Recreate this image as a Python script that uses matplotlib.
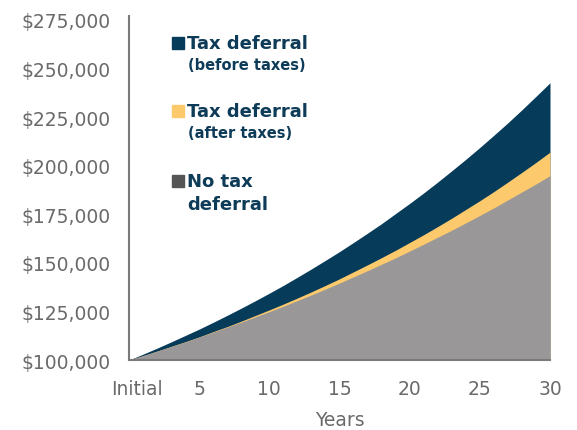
import matplotlib.pyplot as plt
import matplotlib.transforms as mtransforms
from matplotlib.patches import Rectangle
from matplotlib.ticker import FuncFormatter

years = list(range(0, 31))

# value of $100,000 over time
before_taxes = [100000, 103000, 106100, 109300, 112600, 115900, 119400, 123000,
                126700, 130500, 134400, 138400, 142600, 146900, 151300, 155800,
                160500, 165300, 170200, 175400, 180600, 186000, 191600, 197400,
                203300, 209400, 215700, 222100, 228800, 235700, 242700]
after_taxes = [100000, 102250, 104600, 107000, 109400, 111900, 114600, 117200,
               120000, 122900, 125800, 128800, 131900, 135100, 138400, 141800,
               145400, 149000, 152700, 156500, 160500, 164500, 168700, 173000,
               177500, 182000, 186700, 191600, 196600, 201700, 207000]
no_deferral = [100000, 102250, 104550, 106900, 109300, 111800, 114300, 116900,
               119500, 122200, 124900, 127700, 130600, 133500, 136500, 139600,
               142800, 146000, 149300, 152600, 156100, 159600, 163200, 166800,
               170600, 174400, 178300, 182400, 186500, 190600, 194900]

xtick_pos = [0, 5, 10, 15, 20, 25, 30]
xtick_labels = ['Initial', '5', '10', '15', '20', '25', '30']
ytick_pos = [100000, 125000, 150000, 175000, 200000, 225000, 250000, 275000]

navy = '#063b5a'
yellow = '#fdc96d'
grey = '#999797'
text_grey = '#6a6a6a'
legend_text = '#0d3b58'

W, H = 577, 431
fig = plt.figure(figsize=(W / 100, H / 100), dpi=100)
ax = fig.add_axes([129 / W, 1 - 361 / H, (550 - 129) / W, (361 - 21) / H])

ax.fill_between(years, 100000, before_taxes, color=navy, lw=0)
ax.fill_between(years, 100000, after_taxes, color=yellow, lw=0)
ax.fill_between(years, 100000, no_deferral, color=grey, lw=0)

ax.set_xlim(0, 30)
ax.set_ylim(100000, 275000)
ax.set_xticks(xtick_pos)
ax.set_xticklabels(xtick_labels)
ax.set_yticks(ytick_pos)
ax.yaxis.set_major_formatter(FuncFormatter(lambda v, p: '${:,.0f}'.format(v)))

for s in ['top', 'right']:
    ax.spines[s].set_visible(False)
for s in ['left', 'bottom']:
    ax.spines[s].set_color('#7a7a7a')
    ax.spines[s].set_linewidth(1.5)
ax.spines['left'].set_bounds(100000, 277000)

ax.tick_params(length=0, labelsize=13.5, colors=text_grey)
ax.tick_params(axis='y', pad=13)
ax.tick_params(axis='x', pad=14)
lbl0 = ax.get_xticklabels()[0]
lbl0.set_transform(lbl0.get_transform() + mtransforms.ScaledTranslation(8 / 100, 0, fig.dpi_scale_trans))

ax.set_xlabel('Years', fontsize=13.5, color=text_grey, labelpad=8)

# legend
items = [
    (navy, 'Tax deferral', '(before taxes)', 44, 66),
    (yellow, 'Tax deferral', '(after taxes)', 112, 133),
    ('#555555', 'No tax', None, 182, 205),
]
for color, line1, line2, y1, y2 in items:
    fig.patches.append(Rectangle((172 / W, 1 - (y1 + 6) / H), 12 / W, 12 / H,
                                 transform=fig.transFigure, color=color))
    fig.text(187 / W, 1 - y1 / H, line1, fontsize=13, fontweight='semibold',
             color=legend_text, va='center', ha='left')
    if line2:
        fig.text(188 / W, 1 - y2 / H, line2, fontsize=10.5, fontweight='semibold',
                 color=legend_text, va='center', ha='left')
    else:
        fig.text(187 / W, 1 - y2 / H, 'deferral', fontsize=13, fontweight='semibold',
                 color=legend_text, va='center', ha='left')

fig.savefig('out.png', dpi=100)
